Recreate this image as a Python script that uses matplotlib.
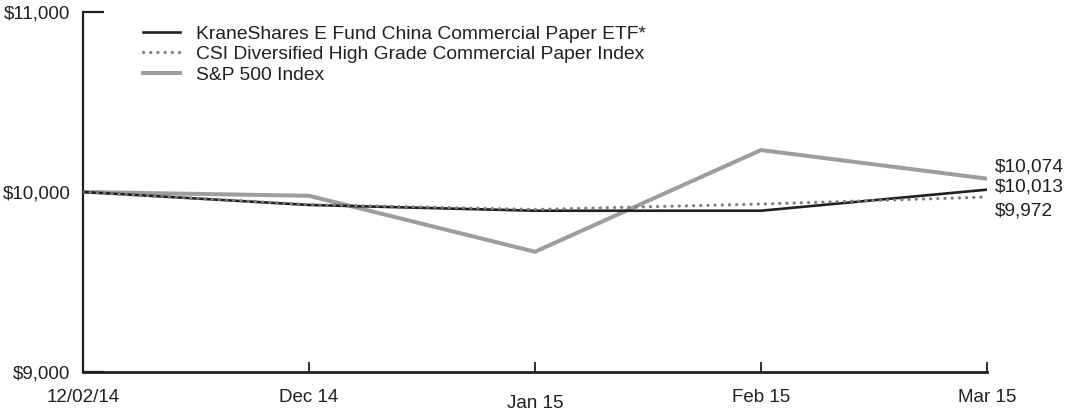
import matplotlib
matplotlib.use("Agg")
import matplotlib.pyplot as plt
import matplotlib.transforms as mtransforms

plt.rcParams['font.family'] = ['Liberation Sans', 'DejaVu Sans']

# ---- data ----
dates = ["12/02/14", "Dec 14", "Jan 15", "Feb 15", "Mar 15"]
etf = [10000, 9928, 9896, 9896, 10013]
csi = [10000, 9930, 9903, 9933, 9972]
sp500 = [10000, 9979, 9668, 10233, 10074]
series_names = ["KraneShares E Fund China Commercial Paper ETF*",
                "CSI Diversified High Grade Commercial Paper Index",
                "S&P 500 Index"]
yticks = [9000, 10000, 11000]

ink = "#231f20"
fig = plt.figure(figsize=(10.67, 4.13), dpi=100)
ax = fig.add_axes([83/1067, 1-372/413, (987-83)/1067, (372-12)/413])

x = list(range(len(dates)))
l3, = ax.plot(x, sp500, color="#9d9d9d", lw=2.9, solid_joinstyle='miter', zorder=2)
l1, = ax.plot(x, etf, color=ink, lw=1.9, zorder=3)
l2, = ax.plot(x, csi, color="#7d7d7d", lw=2.3, linestyle=(0, (0.05, 2.2)),
              dash_capstyle='round', zorder=4)

ax.set_xlim(0, len(dates) - 1)
ax.set_ylim(yticks[0], yticks[-1])
ax.set_yticks(yticks)
ax.set_yticklabels([f"${v:,.0f}" for v in yticks])
ax.set_xticks(x)
ax.set_xticklabels(dates)

for s in ['top', 'right']:
    ax.spines[s].set_visible(False)
ax.spines['left'].set_linewidth(1.6)
ax.spines['bottom'].set_linewidth(2.0)
ax.spines['left'].set_color(ink)
ax.spines['bottom'].set_color(ink)

ax.tick_params(axis='y', direction='in', length=15, width=1.6, pad=9,
               labelsize=13.5, colors=ink)
ax.tick_params(axis='x', direction='in', length=7, width=1.3, pad=12.5,
               labelsize=13.5, colors=ink)

# Jan 15 label sits a bit lower
lab = ax.get_xticklabels()[2]
lab.set_transform(lab.get_transform() + mtransforms.ScaledTranslation(0, -6/100, fig.dpi_scale_trans))

# end value labels
offsets = [(6, 8.5), (6, 2), (6, -10)]
for vals, off in zip([sp500, etf, csi], offsets):
    ax.annotate(f"${vals[-1]:,.0f}", xy=(x[-1], vals[-1]), xytext=off,
                textcoords='offset points', ha='left', va='center',
                fontsize=13.8, color=ink, annotation_clip=False)

leg = ax.legend([l1, l2, l3], series_names, loc='upper left',
                bbox_to_anchor=(60/904, 1 - 13/360), frameon=False,
                fontsize=13.9, handlelength=1.9, handletextpad=0.85,
                labelspacing=0.16, borderaxespad=0, borderpad=0)
for t in leg.get_texts():
    t.set_color(ink)

fig.savefig("out.png", dpi=100)
